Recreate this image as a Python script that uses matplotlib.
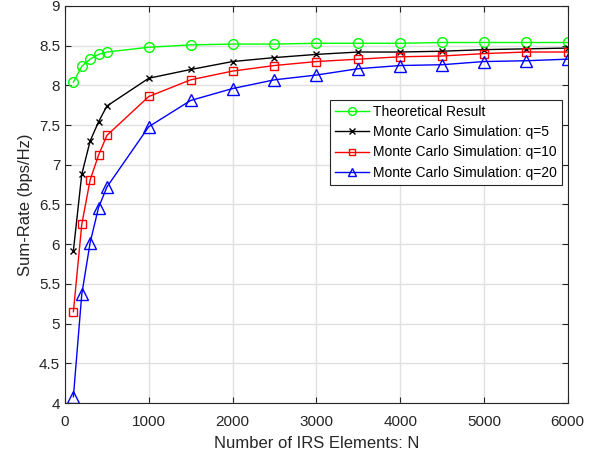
import matplotlib.pyplot as plt

plt.rcParams['font.family'] = ['Liberation Sans', 'DejaVu Sans']

# Number of IRS elements
n_elements = [100, 200, 300, 400, 500, 1000, 1500, 2000, 2500, 3000,
              3500, 4000, 4500, 5000, 5500, 6000]

# Sum-rate values (bps/Hz)
theoretical = [8.04, 8.24, 8.33, 8.39, 8.42, 8.48, 8.51, 8.52, 8.52, 8.53,
               8.53, 8.53, 8.54, 8.54, 8.54, 8.54]
mc_q5 = [5.92, 6.88, 7.30, 7.54, 7.74, 8.09, 8.20, 8.30, 8.35, 8.39,
         8.42, 8.42, 8.43, 8.45, 8.46, 8.47]
mc_q10 = [5.15, 6.25, 6.81, 7.12, 7.37, 7.86, 8.07, 8.18, 8.25, 8.30,
          8.33, 8.36, 8.37, 8.40, 8.42, 8.42]
mc_q20 = [4.08, 5.37, 6.02, 6.46, 6.72, 7.48, 7.81, 7.96, 8.07, 8.13,
          8.21, 8.25, 8.26, 8.30, 8.31, 8.33]

labels = ['Theoretical Result',
          'Monte Carlo Simulation: q=5',
          'Monte Carlo Simulation: q=10',
          'Monte Carlo Simulation: q=20']

fig = plt.figure(figsize=(6.02, 4.59), dpi=100)
ax = fig.add_axes([0.108, 0.122, 0.835, 0.865])

ax.plot(n_elements, theoretical, color=(0, 1, 0), marker='o', markersize=7,
        markerfacecolor='none', linewidth=1, label=labels[0])
ax.plot(n_elements, mc_q5, color='black', marker='x', markersize=5,
        linewidth=1, label=labels[1])
ax.plot(n_elements, mc_q10, color='red', marker='s', markersize=6,
        markerfacecolor='none', linewidth=1, label=labels[2])
ax.plot(n_elements, mc_q20, color='blue', marker='^', markersize=8,
        markerfacecolor='none', linewidth=1, label=labels[3])

ax.set_xlim(0, 6000)
ax.set_ylim(4, 9)
ax.set_xticks(range(0, 6001, 1000))
ax.set_yticks([4 + 0.5 * i for i in range(11)])
ax.set_yticklabels(['4', '4.5', '5', '5.5', '6', '6.5', '7', '7.5', '8', '8.5', '9'])
ax.grid(True, color='#e0e0e0', linewidth=1)
ax.set_axisbelow(True)
ax.tick_params(direction='in', top=True, right=True, labelsize=11,
               colors='#262626', length=4)
ax.tick_params(axis='x', pad=8.5)
for s in ax.spines.values():
    s.set_color('#262626')
    s.set_linewidth(0.8)

ax.set_xlabel('Number of IRS Elements: N', fontsize=12, color='#262626',
              labelpad=5)
ax.set_ylabel('Sum-Rate (bps/Hz)', fontsize=12, color='#262626')

leg = ax.legend(loc='upper right', bbox_to_anchor=(0.988, 0.763), fontsize=10,
                fancybox=False, edgecolor='#262626', framealpha=1,
                borderpad=0.35, labelspacing=0.45, handlelength=2.5,
                handletextpad=0.25, borderaxespad=0, markerscale=0.8)
leg.get_frame().set_linewidth(0.8)

fig.savefig('out.png', dpi=100)
